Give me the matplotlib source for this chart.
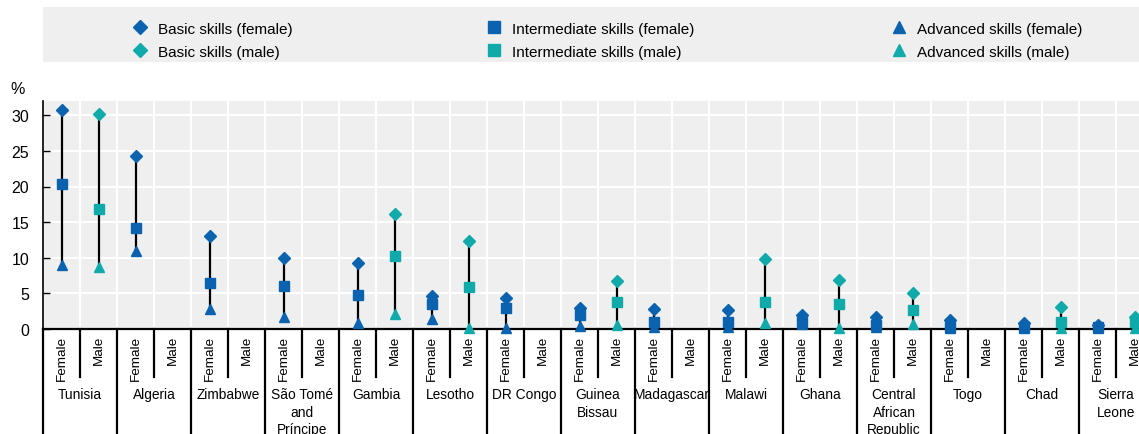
import numpy as np
import matplotlib
matplotlib.use("Agg")
import matplotlib.pyplot as plt
from matplotlib.lines import Line2D
from matplotlib.patches import Rectangle
import matplotlib.transforms as mtransforms

plt.rcParams["font.family"] = ["Liberation Sans", "DejaVu Sans"]

countries = ["Tunisia", "Algeria", "Zimbabwe", "São Tomé\nand\nPríncipe", "Gambia", "Lesotho",
             "DR Congo", "Guinea\nBissau", "Madagascar", "Malawi", "Ghana",
             "Central\nAfrican\nRepublic", "Togo", "Chad", "Sierra\nLeone"]
nan = np.nan
basic_f = [30.8, 24.3, 13.0, 10.0, 9.3, 4.7, 4.3, 2.9, 2.8, 2.7, 1.9, 1.7, 1.3, 0.9, 0.6]
inter_f = [20.3, 14.2, 6.5, 6.1, 4.8, 3.5, 2.9, 2.0, 1.0, 1.0, 1.0, 0.5, 0.3, 0.3, 0.3]
adv_f = [9.0, 11.0, 2.8, 1.7, 0.9, 1.4, 0.2, 0.4, 0.3, 0.3, 0.7, 0.3, 0.1, 0.1, 0.1]
basic_m = [30.2, nan, nan, nan, 16.2, 12.4, nan, 6.8, nan, 9.8, 6.9, 5.1, nan, 3.1, 1.7]
inter_m = [16.9, nan, nan, nan, 10.3, 5.9, nan, 3.8, nan, 3.8, 3.5, 2.6, nan, 1.0, 1.0]
adv_m = [8.7, nan, nan, nan, 2.1, 0.2, nan, 0.6, nan, 0.8, 0.2, 0.7, nan, 0.1, 0.1]

C_F = "#0b62af"
C_M = "#10aaaa"
BG = "#efefef"

W, H = 1139, 435
fig = plt.figure(figsize=(W / 100, H / 100), dpi=100)
n = len(countries)
ax = fig.add_axes([43 / W, 105 / H, 2 * n * 37 / W, 228 / H])
ax.set_facecolor(BG)
ax.set_xlim(0, 2 * n)
ax.set_ylim(0, 32.0)

for x in range(1, 2 * n):
    ax.axvline(x, color="white", lw=1.5, zorder=0)
for y in range(5, 31, 5):
    ax.axhline(y, color="white", lw=1.5, zorder=0)

xf = np.arange(n) * 2 + 0.5
xm = xf + 1
for xs, b, i, a, c in [(xf, basic_f, inter_f, adv_f, C_F), (xm, basic_m, inter_m, adv_m, C_M)]:
    b, i, a = np.array(b), np.array(i), np.array(a)
    lo = np.fmin(np.fmin(b, i), a)
    hi = np.fmax(np.fmax(b, i), a)
    ok = ~np.isnan(b)
    ax.vlines(xs[ok], lo[ok], hi[ok], color="black", lw=1.6, zorder=2)
    ax.plot(xs, a, "^", color=c, ms=7, ls="none", zorder=3, clip_on=False)
    ax.plot(xs, i, "s", color=c, ms=6.5, ls="none", zorder=4, clip_on=False)
    ax.plot(xs, b, "D", color=c, ms=6.5, ls="none", zorder=5, clip_on=False)

for s in ["top", "right"]:
    ax.spines[s].set_visible(False)
ax.spines["left"].set_linewidth(1.2)
ax.spines["bottom"].set_linewidth(1.6)
ax.set_yticks(range(0, 31, 5))
ax.tick_params(axis="y", direction="in", length=5, width=1, labelsize=11.5, pad=10)
ax.set_xticks(np.sort(np.concatenate([xf, xm])))
ax.set_xticklabels(["Female", "Male"] * n, rotation=90, fontsize=9.7)
ax.tick_params(axis="x", length=0, pad=4)
fig.text(18 / W, 1 - 90 / H, "%", fontsize=11.5, ha="center", va="center")

trans = mtransforms.blended_transform_factory(ax.transData, ax.transAxes)
for k in range(n):
    ax.plot([2 * k + 1, 2 * k + 1], [0, -48 / 228], color="black", lw=1.6, transform=trans, clip_on=False)
    ax.plot([2 * k, 2 * k], [0, -0.5], color="black", lw=1.6, transform=trans, clip_on=False)
    ax.text(2 * k + 1, -58 / 228, countries[k], transform=trans, ha="center", va="top",
            fontsize=9.9, linespacing=1.33)

# legend band
fig.patches.append(Rectangle((43 / W, 1 - 63 / H), 1 - 43 / W, 55 / H, transform=fig.transFigure,
                             facecolor=BG, edgecolor="none", zorder=0))
groups = [("D", "Basic skills", 7.5), ("s", "Intermediate skills", 9), ("^", "Advanced skills", 9)]
xpos = [123, 477, 882]
for (mk, name, ms), xp in zip(groups, xpos):
    handles = [Line2D([], [], marker=mk, color=C_F, ls="none", ms=ms),
               Line2D([], [], marker=mk, color=C_M, ls="none", ms=ms)]
    fig.legend(handles, [name + " (female)", name + " (male)"], loc="upper left",
               bbox_to_anchor=(xp / W, 1 - 15 / H), frameon=False, fontsize=11,
               handletextpad=0.6, labelspacing=0.6, borderpad=0, handlelength=1.2)

fig.savefig("out.png", dpi=100)
